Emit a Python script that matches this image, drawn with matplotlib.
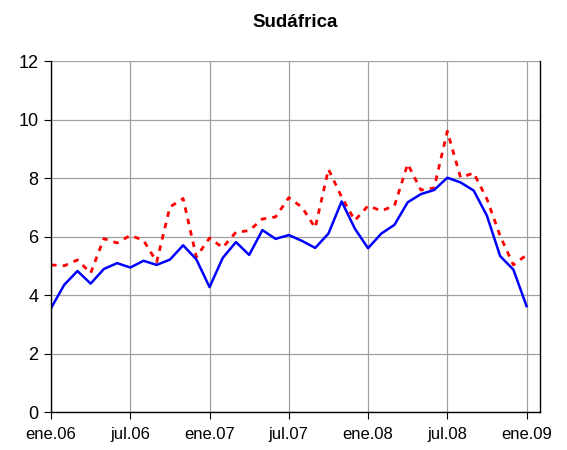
import numpy as np
import matplotlib
matplotlib.use("Agg")
import matplotlib.pyplot as plt

plt.rcParams['font.family'] = ['Liberation Sans', 'DejaVu Sans']

# meses desde ene.06 hasta ene.09
meses = np.arange(37)
etiquetas = ["ene.06", "jul.06", "ene.07", "jul.07", "ene.08", "jul.08", "ene.09"]

# serie azul (línea continua)
azul = [3.55, 4.35, 4.82, 4.39, 4.89, 5.09, 4.94, 5.17, 5.03, 5.21, 5.70, 5.22,
        4.27, 5.27, 5.81, 5.37, 6.22, 5.92, 6.05, 5.85, 5.61, 6.10, 7.20, 6.27,
        5.60, 6.10, 6.40, 7.17, 7.45, 7.59, 8.01, 7.85, 7.57, 6.71, 5.33, 4.87,
        3.62]

# serie roja (línea punteada)
rojo = [5.03, 5.00, 5.20, 4.75, 5.93, 5.78, 6.04, 5.87, 5.13, 7.01, 7.30, 5.30,
        5.95, 5.62, 6.15, 6.20, 6.60, 6.67, 7.33, 7.00, 6.30, 8.30, 7.35, 6.55,
        7.05, 6.88, 7.05, 8.48, 7.59, 7.66, 9.60, 8.02, 8.17, 7.28, 6.02, 5.03,
        5.37]

fig = plt.figure(figsize=(5.67, 4.5), dpi=100)
ax = fig.add_axes([0.090, 0.0844, 0.862, 0.780])

ax.plot(meses, rojo, color="red", lw=2.0, linestyle=(0, (2, 2.2)))
ax.plot(meses, azul, color="blue", lw=1.8)

ax.set_xlim(0, 37)
ax.set_ylim(0, 12)
ax.set_yticks(range(0, 13, 2))
ax.set_xticks(range(0, 37, 6))
ax.set_xticklabels(etiquetas, fontsize=12)
ax.tick_params(axis="y", labelsize=13, length=5, direction="out", pad=4)
ax.tick_params(axis="x", length=5, direction="out", pad=6)
ax.grid(True, color="#a0a0a0", lw=0.9)
ax.set_axisbelow(True)

ax.spines["top"].set_visible(False)
for s in ["left", "bottom", "right"]:
    ax.spines[s].set_color("black")
    ax.spines[s].set_linewidth(1.0)
ax.axhline(12, color="#808080", lw=1.2, zorder=0)

fig.text(0.52, 0.949, "Sudáfrica", ha="center", va="center", fontsize=13.5, fontweight="bold")

fig.savefig("out.png", dpi=100)
